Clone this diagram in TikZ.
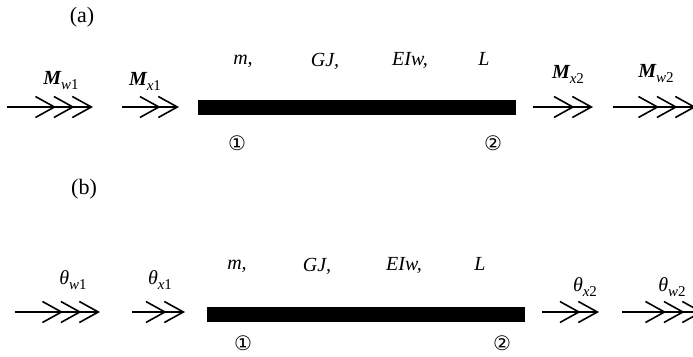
\documentclass[tikz,border=0pt]{standalone}
\usepackage{fontspec}
\setmainfont{Liberation Serif}
\newfontfamily\circfont{DejaVu Sans}
\usetikzlibrary{arrows.meta,positioning}
\tikzset{
  beam/.style={fill=black, draw=none, inner sep=0pt, minimum width=#1, minimum height=15pt},
  lbl/.style={font=\fontsize{20}{22}\selectfont\itshape, inner sep=0pt},
  blbl/.style={font=\fontsize{20}{22}\selectfont\bfseries\itshape, inner sep=0pt},
  tag/.style={font=\fontsize{22}{24}\selectfont, inner sep=0pt},
  endno/.style={font=\circfont\fontsize{20}{22}\selectfont, inner sep=0pt},
  barb/.tip={Straight Barb[length=19pt, width=21pt, sep=-3pt]},
  dbl/.style={line width=1.6pt, -{barb[]barb[]}},
  tpl/.style={line width=1.6pt, -{barb[]barb[]barb[]}},
}
\newcommand{\sbs}[2]{\raisebox{-5pt}{\fontsize{15}{16}\selectfont\mdseries #1\upshape #2}}
\begin{document}
\begin{tikzpicture}[x=1pt, y=-1pt]
\useasboundingbox (0,0) rectangle (693,356);

% (a) end forces
\node[tag] (taga) at (82,17) {(a)};
\node[beam=318pt] (beamA) at (357,107) {};
\node[lbl] (mA) at (243,61) {m,};
\node[lbl] (gjA) at (325,61) {GJ,};
\node[lbl] (eiA) at (410,60) {EIw,};
\node[lbl] (lA) at (484,59) {L};
\node[endno] (n1A) at (237,143) {①};
\node[endno] (n2A) at (493,143) {②};

\node[blbl] (mw1) at (61,81) {M\sbs{w}{1}};
\node[blbl] (mx1) at (145,81) {M\sbs{x}{1}};
\node[blbl] (mx2) at (568,74) {M\sbs{x}{2}};
\node[blbl] (mw2) at (656,74) {M\sbs{w}{2}};

\coordinate (mw1s) at (7,107);   \coordinate (mw1e) at (90,107);
\coordinate (mx1s) at (122,107); \coordinate (mx1e) at (176,107);
\coordinate (mx2s) at (533,107); \coordinate (mx2e) at (590,107);
\coordinate (mw2s) at (613,107); \coordinate (mw2e) at (693,107);
\draw[tpl] (mw1s) -- (mw1e);
\draw[dbl] (mx1s) -- (mx1e);
\draw[dbl] (mx2s) -- (mx2e);
\draw[tpl] (mw2s) -- (mw2e);

% (b) end displacements
\node[tag] (tagb) at (84,189) {(b)};
\node[beam=318pt] (beamB) at (366,314) {};
\node[lbl] (mB) at (237,266) {m,};
\node[lbl] (gjB) at (317,266) {GJ,};
\node[lbl] (eiB) at (404,265) {EIw,};
\node[lbl] (lB) at (480,264) {L};
\node[endno] (n1B) at (243,343) {①};
\node[endno] (n2B) at (502,343) {②};

\node[lbl] (tw1) at (73,280) {θ\sbs{w}{1}};
\node[lbl] (tx1) at (160,280) {θ\sbs{x}{1}};
\node[lbl] (tx2) at (585,287) {θ\sbs{x}{2}};
\node[lbl] (tw2) at (672,287) {θ\sbs{w}{2}};

\coordinate (tw1s) at (15,312);  \coordinate (tw1e) at (97,312);
\coordinate (tx1s) at (132,312); \coordinate (tx1e) at (182,312);
\coordinate (tx2s) at (542,312); \coordinate (tx2e) at (596,312);
\coordinate (tw2s) at (622,312); \coordinate (tw2e) at (700,312);
\draw[tpl] (tw1s) -- (tw1e);
\draw[dbl] (tx1s) -- (tx1e);
\draw[dbl] (tx2s) -- (tx2e);
\draw[tpl] (tw2s) -- (tw2e);
\end{tikzpicture}
\end{document}
